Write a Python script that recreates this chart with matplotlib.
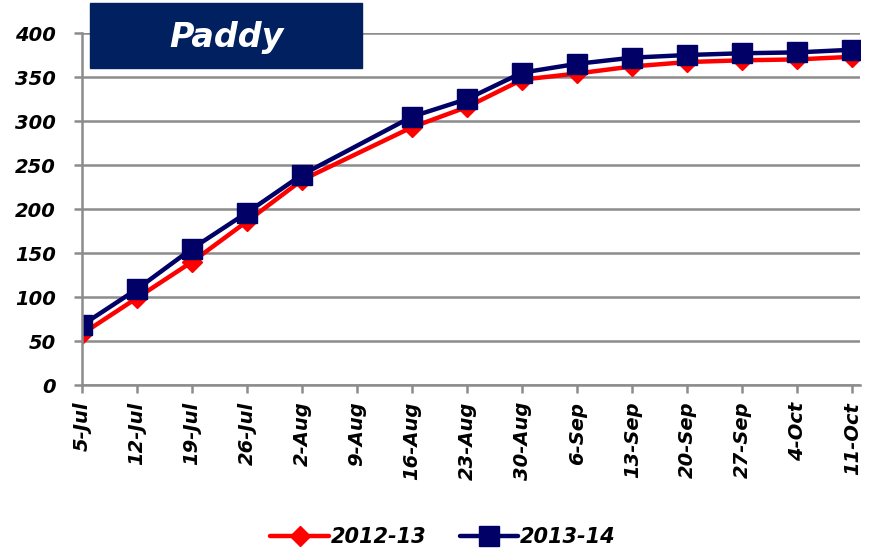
import numpy as np
import matplotlib.pyplot as plt
from matplotlib.patches import Rectangle

weeks = ['5-Jul', '12-Jul', '19-Jul', '26-Jul', '2-Aug', '9-Aug', '16-Aug',
         '23-Aug', '30-Aug', '6-Sep', '13-Sep', '20-Sep', '27-Sep', '4-Oct',
         '11-Oct']

# 9-Aug has no reading in either season
paddy_1213 = [58, 99, 140, 186, 233, np.nan, 293, 316, 347, 354, 362, 367,
              369, 370, 373]
paddy_1314 = [68, 109, 155, 196, 239, np.nan, 305, 325, 355, 365, 372, 375,
              377, 378, 381]

plt.rcParams['font.family'] = ['DejaVu Sans']

fig = plt.figure(figsize=(8.69, 5.54), dpi=100)
ax = fig.add_axes([0.0944, 0.305, 0.8952, 0.6354])

x = np.arange(len(weeks))
for vals, col, mk, ms, lab in [(paddy_1213, '#ff0000', 'D', 10, '2012-13'),
                               (paddy_1314, '#000066', 's', 14, '2013-14')]:
    v = np.array(vals, dtype=float)
    ok = ~np.isnan(v)
    ax.plot(x[ok], v[ok], color=col, lw=3.2, marker=mk, ms=ms,
            solid_capstyle='round', label=lab)

ax.set_xlim(0, 14.14)
ax.set_ylim(0, 400)
ax.set_yticks(range(0, 401, 50))
ax.set_xticks(x)
ax.set_xticklabels(weeks, rotation=90)
ax.yaxis.grid(True, color='#8c8c8c', lw=1.8)
ax.set_axisbelow(True)
for s in ['top', 'right']:
    ax.spines[s].set_visible(False)
for s in ['left', 'bottom']:
    ax.spines[s].set_color('#8c8c8c')
    ax.spines[s].set_linewidth(1.8)
ax.tick_params(colors='#8c8c8c', width=1.8, length=6, labelcolor='black',
               labelsize=14)
ax.tick_params(axis='y', pad=13)
ax.tick_params(axis='x', pad=6)
for t in ax.get_xticklabels() + ax.get_yticklabels():
    t.set_fontweight('bold')
    t.set_fontstyle('italic')

# title box
fig.patches.append(Rectangle((90 / 869, 1 - 68 / 554), 272 / 869, 65 / 554,
                             transform=fig.transFigure, color='#002060',
                             zorder=5))
fig.text(226 / 869, 1 - 37 / 554, 'Paddy', color='white', fontsize=24,
         fontweight='bold', fontstyle='italic', ha='center', va='center',
         zorder=6)

leg = fig.legend(loc='center', bbox_to_anchor=(0.51, 0.03), ncol=2,
                 frameon=False, handlelength=2.8, columnspacing=1.6,
                 handletextpad=0.1,
                 prop={'weight': 'bold', 'style': 'italic', 'size': 15})

fig.savefig('out.png', dpi=100)
